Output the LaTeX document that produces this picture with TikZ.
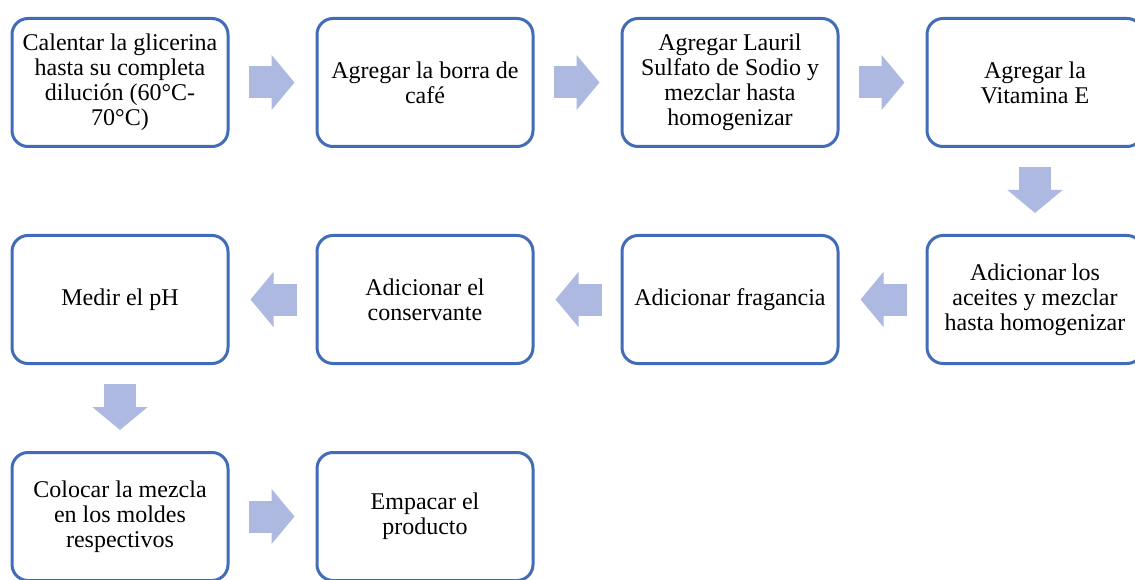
\documentclass[tikz,border=0pt]{standalone}
\usepackage{fontspec}
\setmainfont{Liberation Serif}
\usetikzlibrary{arrows.meta, positioning}

\definecolor{boxblue}{RGB}{65,108,184}
\definecolor{arrowblue}{RGB}{173,185,224}

\tikzset{
    stepbox/.style={draw=boxblue, line width=3pt, rounded corners=16pt, fill=white,
        minimum width=216pt, minimum height=128pt, inner sep=2pt, align=center,
        font=\fontsize{24}{25}\selectfont},
    flow/.style={draw=arrowblue, line width=32pt, -{Triangle[length=23pt, width=54pt]},
        shorten <=19pt, shorten >=21pt},
}

\begin{document}
\begin{tikzpicture}[x=1pt, y=-1pt, node distance=86pt]
    \useasboundingbox (0,0) rectangle (1135,580);

    \node[stepbox]                     (Step 1)  at (120,82.5) {Calentar la glicerina\\hasta su completa\\dilución (60°C-\\70°C)};
    \node[stepbox, right=of Step 1]    (Step 2)  {Agregar la borra de\\café};
    \node[stepbox, right=of Step 2]    (Step 3)  {Agregar Lauril\\Sulfato de Sodio y\\mezclar hasta\\homogenizar};
    \node[stepbox, right=of Step 3]    (Step 4)  {Agregar la\\Vitamina E};
    \node[stepbox, below=of Step 4]    (Step 5)  {Adicionar los\\aceites y mezclar\\hasta homogenizar};
    \node[stepbox, left=of Step 5]     (Step 6)  {Adicionar fragancia};
    \node[stepbox, left=of Step 6]     (Step 7)  {Adicionar el\\conservante};
    \node[stepbox, left=of Step 7]     (Step 8)  {Medir el pH};
    \node[stepbox, below=of Step 8]    (Step 9)  {Colocar la mezcla\\en los moldes\\respectivos};
    \node[stepbox, right=of Step 9]    (Step 10) {Empacar el\\producto};

    \draw[flow] (Step 1) -- (Step 2);
    \draw[flow] (Step 2) -- (Step 3);
    \draw[flow] (Step 3) -- (Step 4);
    \draw[flow] (Step 4) -- (Step 5);
    \draw[flow] (Step 5) -- (Step 6);
    \draw[flow] (Step 6) -- (Step 7);
    \draw[flow] (Step 7) -- (Step 8);
    \draw[flow] (Step 8) -- (Step 9);
    \draw[flow] (Step 9) -- (Step 10);
\end{tikzpicture}
\end{document}
